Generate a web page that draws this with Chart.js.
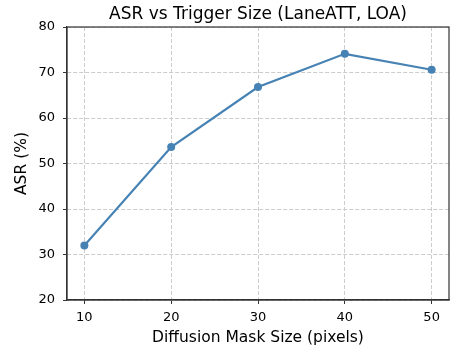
<!DOCTYPE html>
<html>
<head>
<meta charset="utf-8">
<script src="https://cdn.jsdelivr.net/npm/chart.js@4.4.1/dist/chart.umd.min.js"></script>
<style>
  html, body { margin: 0; padding: 0; background: #fff; }
  #wrap { width: 453px; height: 352px; }
</style>
</head>
<body>
<div id="wrap"><canvas id="myChart" width="453" height="352"></canvas></div>
<script>
"use strict";

// data
const maskSizes = [10, 20, 30, 40, 50];
const asrValues = [32.0, 53.6, 66.8, 74.1, 70.6];
const xTicks = [10, 20, 30, 40, 50];
const yTicks = [20, 30, 40, 50, 60, 70, 80];

const FONT = "'DejaVu Sans', sans-serif";
const LINE = "#4682b4";

// draw the full box round the plot like matplotlib spines
const boxPlugin = {
  id: "box",
  afterDraw(chart) {
    const a = chart.chartArea;
    const ctx = chart.ctx;
    ctx.save();
    ctx.strokeStyle = "#333";
    ctx.lineWidth = 1.2;
    ctx.strokeRect(a.left, a.top, a.right - a.left, a.bottom - a.top);
    ctx.restore();
  }
};

const points = maskSizes.map((x, i) => ({ x: x, y: asrValues[i] }));

const config = {
  type: "line",
  data: {
    datasets: [
      {
        data: points,
        borderColor: LINE,
        backgroundColor: LINE,
        borderWidth: 2.2,
        pointRadius: 4,
        pointBorderWidth: 0,
        pointBackgroundColor: LINE,
        tension: 0,
        fill: false
      }
    ]
  },
  options: {
    responsive: false,
    animation: false,
    devicePixelRatio: 1,
    layout: { padding: { left: 0, right: 3, top: 0, bottom: 0 } },
    plugins: {
      legend: { display: false },
      tooltip: { enabled: false },
      title: {
        display: true,
        text: "ASR vs Trigger Size (LaneATT, LOA)",
        fullSize: false,
        color: "#000",
        font: { family: FONT, size: 17, weight: "normal" },
        padding: { top: 4, bottom: 2.6 }
      }
    },
    scales: {
      x: {
        type: "linear",
        min: 8,
        max: 52,
        afterBuildTicks: (scale) => {
          scale.ticks = xTicks.map((v) => ({ value: v }));
        },
        afterFit: (scale) => {
          scale.height = 52;
        },
        ticks: {
          color: "#000",
          padding: 6,
          font: { family: FONT, size: 13 },
          maxRotation: 0
        },
        grid: {
          color: "#cccccc",
          lineWidth: 1,
          tickLength: 4,
          tickColor: "#333",
          tickBorderDash: []
        },
        border: { color: "#333", width: 1.2, dash: [4, 2] },
        title: {
          display: true,
          text: "Diffusion Mask Size (pixels)",
          color: "#000",
          font: { family: FONT, size: 15.5 },
          padding: { top: 0, bottom: 5.2 }
        }
      },
      y: {
        min: 20,
        max: 80,
        afterBuildTicks: (scale) => {
          scale.ticks = yTicks.map((v) => ({ value: v }));
        },
        afterFit: (scale) => {
          scale.width = 67;
        },
        ticks: {
          color: "#000",
          padding: 8,
          font: { family: FONT, size: 13 }
        },
        grid: {
          color: "#cccccc",
          lineWidth: 1,
          tickLength: 4,
          tickColor: "#333",
          tickBorderDash: []
        },
        border: { color: "#333", width: 1.2, dash: [4, 2] },
        title: {
          display: true,
          text: "ASR (%)",
          color: "#000",
          font: { family: FONT, size: 15.5 },
          padding: { top: 12.7, bottom: 0 }
        }
      }
    }
  },
  plugins: [boxPlugin]
};

const myChart = new Chart(document.getElementById("myChart"), config);
</script>
</body>
</html>
